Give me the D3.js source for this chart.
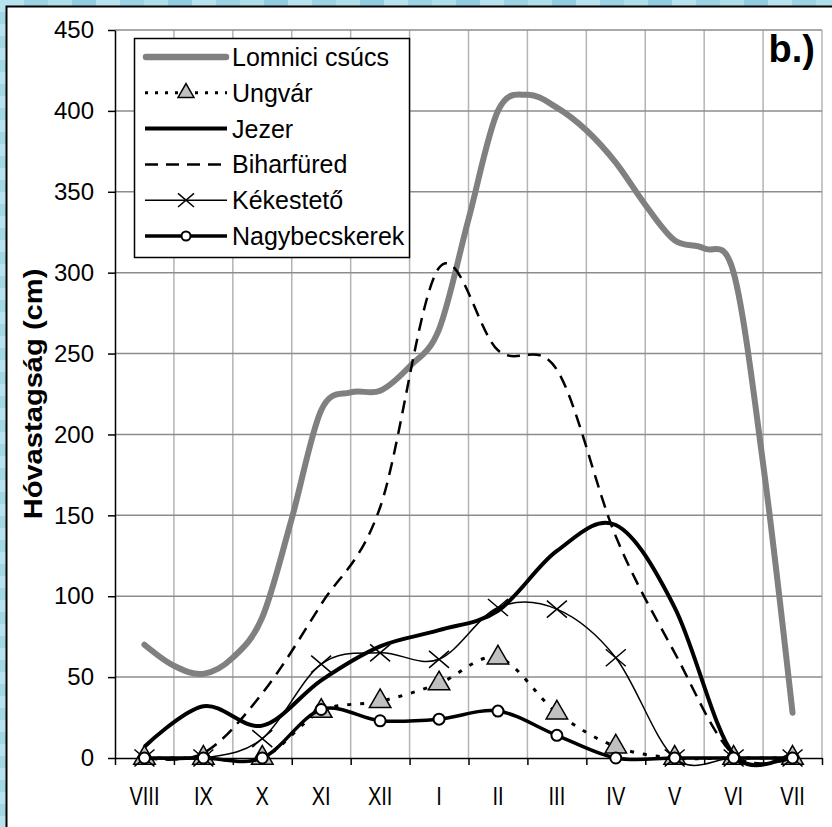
<!DOCTYPE html>
<html>
<head>
<meta charset="utf-8">
<script src="https://cdn.jsdelivr.net/npm/d3@7"></script>
<style>
body { margin: 0; background: #fff; }
text { font-family: "Liberation Sans", Arial, sans-serif; }
</style>
</head>
<body>
<div id="chart"></div>
<script>
// months of the snow season (categories)
var months = ["VIII", "IX", "X", "XI", "XII", "I", "II", "III", "IV", "V", "VI", "VII"];
var yTicks = [0, 50, 100, 150, 200, 250, 300, 350, 400, 450];

// Lomnici csúcs is given twice a month (month index, 0 = VIII)
var lomniciX = [0, 0.5, 1, 1.5, 2, 2.5, 3, 3.5, 4, 4.5, 5, 5.5, 6, 6.5, 7, 7.5, 8, 8.5, 9, 9.5, 10, 10.5, 11];
var lomnici = [70, 57, 52, 62, 87, 148, 215, 226, 227, 242, 265, 333, 400, 410, 402, 388, 368, 342, 320, 315, 300, 182, 28];

// monthly series
var ungvar = [0, 0, 0, 29, 35, 46, 62, 28, 7, 0, 0, 0];
var jezer = [7, 32, 20, 48, 69, 79, 91, 128, 144, 93, 2, 3];
var biharfured = [0, 3, 40, 95, 155, 303, 252, 240, 137, 65, 2, 0];
var kekesteto = [0, 0, 12, 58, 65, 61, 93, 92, 62, 0, 0, 0];
var nagybecskerek = [0, 0, 0, 30, 23, 24, 29, 14, 0, 0, 0, 0];

var names = ["Lomnici csúcs", "Ungvár", "Jezer", "Biharfüred", "Kékestető", "Nagybecskerek"];

var W = 832, H = 827;
var plot = { left: 115, top: 30, right: 822, bottom: 758 };

var svg = d3.select("#chart").append("svg")
    .attr("width", W)
    .attr("height", H);

// tiled blue background
var defs = svg.append("defs");
var pat = defs.append("pattern")
    .attr("id", "bg")
    .attr("width", 96)
    .attr("height", 24)
    .attr("patternUnits", "userSpaceOnUse");
pat.append("rect").attr("width", 96).attr("height", 24).attr("fill", "#a9dbe7");
[[0, 0, 24, 12, "#b6e3ed"], [24, 0, 24, 12, "#9dd3e2"], [48, 0, 24, 12, "#afdfea"], [72, 0, 24, 12, "#92cde0"],
 [0, 12, 24, 12, "#a2d7e4"], [24, 12, 24, 12, "#b3e1ec"], [48, 12, 24, 12, "#98d0e1"], [72, 12, 24, 12, "#aee0ea"]]
    .forEach(function (r) {
        pat.append("rect").attr("x", r[0]).attr("y", r[1]).attr("width", r[2]).attr("height", r[3]).attr("fill", r[4]);
    });
svg.append("rect").attr("width", W).attr("height", H).attr("fill", "url(#bg)");

// white panel
svg.append("rect")
    .attr("x", 6.5).attr("y", 6.5)
    .attr("width", W + 20).attr("height", H + 20)
    .attr("fill", "#fff")
    .attr("stroke", "#000")
    .attr("stroke-width", 2);

var x = d3.scaleLinear().domain([-0.5, 11.5]).range([plot.left, plot.right]);
var xBand = d3.scaleBand().domain(months).range([plot.left, plot.right]);
var y = d3.scaleLinear().domain([0, 450]).range([plot.bottom, plot.top]);

// grid
var grid = svg.append("g");
grid.selectAll(".vgrid")
    .data(d3.range(0.5, 12, 1))
    .enter().append("line")
    .attr("x1", function (d) { return x(d); })
    .attr("x2", function (d) { return x(d); })
    .attr("y1", plot.top)
    .attr("y2", plot.bottom)
    .attr("stroke", "#b4b4b4")
    .attr("stroke-width", 1.5);
grid.selectAll(".hgrid")
    .data(yTicks.slice(1))
    .enter().append("line")
    .attr("x1", plot.left)
    .attr("x2", plot.right)
    .attr("y1", function (d) { return y(d); })
    .attr("y2", function (d) { return y(d); })
    .attr("stroke", "#8c8c8c")
    .attr("stroke-width", 1.5);

// axes
var yAxis = svg.append("g")
    .attr("transform", "translate(" + plot.left + ",0)")
    .call(d3.axisLeft(y).tickValues(yTicks).tickSize(7).tickSizeOuter(0).tickPadding(14));
yAxis.selectAll("text").style("font-size", "24px").attr("fill", "#000");

var xTicks = svg.append("g")
    .attr("transform", "translate(0," + plot.bottom + ")")
    .call(d3.axisBottom(x).tickValues(d3.range(-0.5, 12, 1)).tickSize(7).tickSizeOuter(0).tickFormat(""));

var xLabels = svg.append("g")
    .attr("transform", "translate(0," + plot.bottom + ")")
    .call(d3.axisBottom(xBand).tickSize(0).tickPadding(29));
xLabels.select(".domain").remove();
xLabels.selectAll("text")
    .style("font-size", "25px")
    .attr("fill", "#000")
    .attr("transform", "scale(0.8,1)");

svg.selectAll(".domain").attr("stroke", "#000").attr("stroke-width", 1.5);
svg.selectAll(".tick line").attr("stroke", "#000").attr("stroke-width", 1.5);

// axis title
svg.append("text")
    .attr("transform", "translate(42," + ((plot.top + plot.bottom) / 2) + ") rotate(-90) scale(1.12,1)")
    .attr("text-anchor", "middle")
    .style("font-size", "26px")
    .style("font-weight", "bold")
    .text("Hóvastagság (cm)");

svg.append("text")
    .attr("x", 815)
    .attr("y", 62)
    .attr("text-anchor", "end")
    .style("font-size", "38px")
    .style("font-weight", "bold")
    .text("b.)");

// lines
var curve = d3.curveCardinal.tension(0);
var monthLine = d3.line()
    .x(function (d, i) { return x(i); })
    .y(function (d) { return y(d); })
    .curve(curve);
var lomLine = d3.line()
    .x(function (d, i) { return x(lomniciX[i]); })
    .y(function (d) { return y(d); })
    .curve(curve);

var lines = svg.append("g").attr("fill", "none");

lines.append("path")
    .attr("d", lomLine(lomnici))
    .attr("stroke", "#808080")
    .attr("stroke-width", 6)
    .attr("stroke-linecap", "round")
    .attr("stroke-linejoin", "round");

var styles = [
    { data: ungvar, width: 3, dash: "4,9" },
    { data: jezer, width: 4, dash: null },
    { data: biharfured, width: 2.5, dash: "13,8" },
    { data: kekesteto, width: 1.5, dash: null },
    { data: nagybecskerek, width: 3.5, dash: null }
];

var triangle = d3.symbol().type(d3.symbolTriangle);
var cross = function (s) { return "M" + (-s) + "," + (-s * 0.85) + "L" + s + "," + (s * 0.85) + "M" + (-s) + "," + (s * 0.85) + "L" + s + "," + (-s * 0.85); };

function drawMarkers(g, idx, data, px, py, small) {
    if (idx == 0) {
        g.selectAll(".tri")
            .data(data)
            .enter().append("path")
            .attr("transform", function (d, i) { return "translate(" + px(d, i) + "," + py(d) + ")"; })
            .attr("d", triangle.size(small ? 110 : 200)())
            .attr("fill", "#c0c0c0")
            .attr("stroke", "#000")
            .attr("stroke-width", 1.5);
    } else if (idx == 3) {
        g.selectAll(".x")
            .data(data)
            .enter().append("path")
            .attr("transform", function (d, i) { return "translate(" + px(d, i) + "," + py(d) + ")"; })
            .attr("d", cross(small ? 8 : 10))
            .attr("stroke", "#000")
            .attr("stroke-width", 1.5);
    } else if (idx == 4) {
        g.selectAll(".c")
            .data(data)
            .enter().append("circle")
            .attr("cx", function (d, i) { return px(d, i); })
            .attr("cy", function (d) { return py(d); })
            .attr("r", small ? 4.5 : 5.5)
            .attr("fill", "#fff")
            .attr("stroke", "#000")
            .attr("stroke-width", 2);
    }
}

styles.forEach(function (s, k) {
    var g = svg.append("g");
    g.append("path")
        .attr("d", monthLine(s.data))
        .attr("fill", "none")
        .attr("stroke", "#000")
        .attr("stroke-width", s.width)
        .attr("stroke-dasharray", s.dash);
    drawMarkers(g, k, s.data,
        function (d, i) { return x(i); },
        function (d) { return y(d); }, false);
});

// legend
var legend = svg.append("g");
legend.append("rect")
    .attr("x", 134.5).attr("y", 38.5)
    .attr("width", 275).attr("height", 219)
    .attr("fill", "#fff")
    .attr("stroke", "#000")
    .attr("stroke-width", 1.5);

var legendRow = 35.8;
names.forEach(function (name, k) {
    var cy = 57 + k * legendRow;
    var row = legend.append("g");
    if (k == 0) {
        row.append("line")
            .attr("x1", 146).attr("x2", 226).attr("y1", cy).attr("y2", cy)
            .attr("stroke", "#808080").attr("stroke-width", 6.5).attr("stroke-linecap", "round");
    } else {
        var s = styles[k - 1];
        row.append("line")
            .attr("x1", 145).attr("x2", 227).attr("y1", cy).attr("y2", cy)
            .attr("stroke", "#000").attr("stroke-width", s.width)
            .attr("stroke-dasharray", k == 1 ? "3,7" : s.dash);
        drawMarkers(row, k - 1, [0], function () { return 186; }, function () { return cy; }, true);
    }
    row.append("text")
        .attr("x", 232)
        .attr("y", cy + 9)
        .style("font-size", "25px")
        .text(name);
});
</script>
</body>
</html>
